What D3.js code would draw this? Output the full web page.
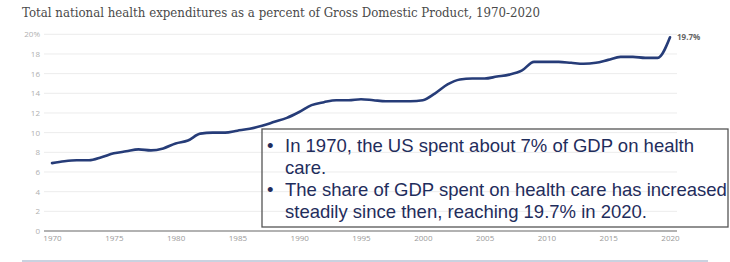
<!DOCTYPE html>
<html>
<head>
<meta charset="utf-8">
<script src="https://cdn.jsdelivr.net/npm/d3@7"></script>
<style>
  body { margin: 0; background: #fff; }
  svg { display: block; }
</style>
</head>
<body>
<svg id="chart" width="730" height="262"></svg>
<script>
// données : dépenses de santé en % du PIB
var years = d3.range(1970, 2021);
var shares = [6.9, 7.1, 7.2, 7.2, 7.5, 7.9, 8.1, 8.3, 8.2, 8.4,
              8.9, 9.2, 9.9, 10.0, 10.0, 10.2, 10.4, 10.7, 11.1, 11.5,
              12.1, 12.8, 13.1, 13.3, 13.3, 13.4, 13.3, 13.2, 13.2, 13.2,
              13.3, 14.0, 14.9, 15.4, 15.5, 15.5, 15.7, 15.9, 16.3, 17.2,
              17.2, 17.2, 17.1, 17.0, 17.1, 17.4, 17.7, 17.7, 17.6, 17.6,
              19.7];
var yTicks = [0, 2, 4, 6, 8, 10, 12, 14, 16, 18, 20];
var xTicks = [1970, 1975, 1980, 1985, 1990, 1995, 2000, 2005, 2010, 2015, 2020];
var title = "Total national health expenditures as a percent of Gross Domestic Product, 1970-2020";
var endLabel = "19.7%";
var bullets = [
    ["In 1970, the US spent about 7% of GDP on health", "care."],
    ["The share of GDP spent on health care has increased", "steadily since then, reaching 19.7% in 2020."]
];

var svg = d3.select("#chart");

var x = d3.scaleLinear().domain([1970, 2020]).range([52, 670]);
var y = d3.scaleLinear().domain([0, 20]).range([231, 34.3]);

// titre
svg.append("text")
    .attr("x", 22)
    .attr("y", 17)
    .attr("fill", "#4a4a4a")
    .style("font", "13px 'DejaVu Serif', serif")
    .attr("textLength", 518)
    .attr("lengthAdjust", "spacingAndGlyphs")
    .text(title);

// grille horizontale
var grid = svg.append("g");
grid.selectAll("line")
    .data(yTicks.filter(function(d) { return d > 0; }))
    .enter().append("line")
    .attr("x1", 44).attr("x2", 677)
    .attr("y1", function(d) { return y(d); })
    .attr("y2", function(d) { return y(d); })
    .attr("stroke", "#ececec")
    .attr("stroke-width", 1);

// axe y (étiquettes seulement)
var yAxis = svg.append("g")
    .attr("transform", "translate(40,0)")
    .call(d3.axisLeft(y).tickValues(yTicks).tickSize(0).tickPadding(0)
        .tickFormat(function(d) { return d === 20 ? "20%" : d; }));
yAxis.select(".domain").remove();
yAxis.selectAll("text")
    .attr("fill", "#b0b0b0")
    .style("font", "8px 'Open Sans', sans-serif");

// ligne de base
svg.append("line")
    .attr("x1", 44).attr("x2", 677)
    .attr("y1", y(0)).attr("y2", y(0))
    .attr("stroke", "#666").attr("stroke-width", 1.2);

// axe x
var xAxis = svg.append("g")
    .attr("transform", "translate(0," + (y(0) + 4) + ")")
    .call(d3.axisBottom(x).tickValues(xTicks).tickSize(0).tickPadding(0)
        .tickFormat(d3.format("d")));
xAxis.select(".domain").remove();
xAxis.selectAll("text")
    .attr("fill", "#999")
    .style("font", "8px 'Open Sans', sans-serif");

// courbe
var line = d3.line()
    .x(function(d, i) { return x(years[i]); })
    .y(function(d) { return y(d); })
    .curve(d3.curveMonotoneX);

svg.append("path")
    .datum(shares)
    .attr("d", line)
    .attr("fill", "none")
    .attr("stroke", "#263c78")
    .attr("stroke-width", 2.6)
    .attr("stroke-linejoin", "round")
    .attr("stroke-linecap", "round");

svg.append("text")
    .attr("x", x(2020) + 7)
    .attr("y", y(shares[shares.length - 1]) + 3)
    .attr("fill", "#666")
    .style("font", "bold 8px 'Open Sans', sans-serif")
    .text(endLabel);

// encadré
var box = svg.append("g");
box.append("rect")
    .attr("x", 262).attr("y", 129)
    .attr("width", 466).attr("height", 98)
    .attr("fill", "none")
    .attr("stroke", "#555")
    .attr("stroke-width", 1.3);

var lineY = 152;
bullets.forEach(function(b) {
    box.append("text")
        .attr("x", 267).attr("y", lineY)
        .attr("fill", "#1f2d5c")
        .style("font", "18.5px 'Liberation Sans', Arial, sans-serif")
        .text("\u2022");
    b.forEach(function(t) {
        box.append("text")
            .attr("x", 285).attr("y", lineY)
            .attr("fill", "#1f2d5c")
            .style("font", "18.5px 'Liberation Sans', Arial, sans-serif")
            .text(t);
        lineY += 22;
    });
});

// filet du bas
svg.append("line")
    .attr("x1", 22).attr("x2", 708)
    .attr("y1", 261).attr("y2", 261)
    .attr("stroke", "#b8c3d6").attr("stroke-width", 1.5);
</script>
</body>
</html>
